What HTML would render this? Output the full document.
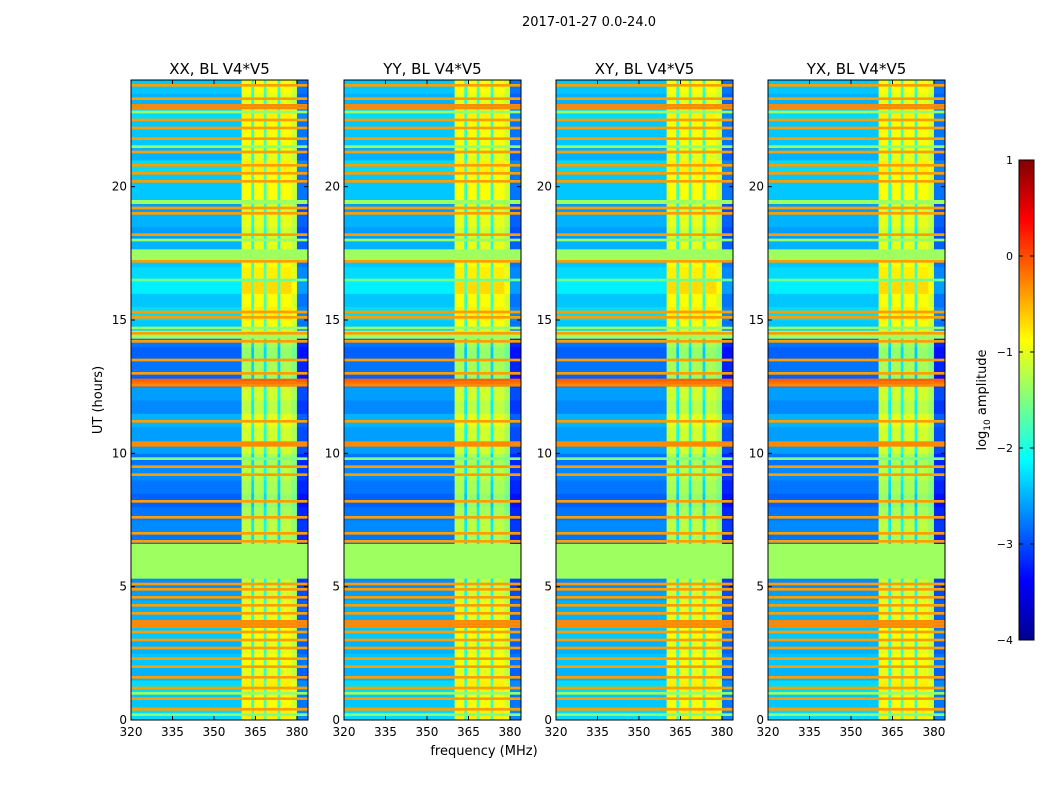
<!DOCTYPE html>
<html><head><meta charset="utf-8"><style>
body{margin:0;background:#fff;}
svg{display:block;font-family:"DejaVu Sans","Liberation Sans",sans-serif;}
</style></head><body>
<svg id="fig" width="1050" height="800" viewBox="0 0 1050 800">
<rect width="1050" height="800" fill="#fff"/>
<defs><linearGradient id="jet" x1="0" y1="1" x2="0" y2="0">
<stop offset="0" stop-color="#00008f"/><stop offset="0.125" stop-color="#0000ff"/><stop offset="0.375" stop-color="#00ffff"/><stop offset="0.625" stop-color="#ffff00"/><stop offset="0.875" stop-color="#ff0000"/><stop offset="1" stop-color="#800000"/></linearGradient></defs>
<text x="589" y="26" font-size="13" text-anchor="middle">2017-01-27 0.0-24.0</text>
<text x="484" y="755" font-size="13" text-anchor="middle">frequency (MHz)</text>
<text transform="translate(102,400) rotate(-90)" font-size="13" text-anchor="middle">UT (hours)</text>
<g id="panels"></g>
<rect x="1019" y="160" width="15" height="480" fill="url(#jet)" stroke="#000"/>
<text transform="translate(986,400) rotate(-90)" font-size="13" text-anchor="middle">log<tspan font-size="9" dy="4">10</tspan><tspan dy="-4"> amplitude</tspan></text>
<g id="cbticks"></g>
</svg>
<script>
const panelTitles = ["XX, BL V4*V5","YY, BL V4*V5","XY, BL V4*V5","YX, BL V4*V5"];
const xTicks = [320,335,350,365,380];
const yTicks = [0,5,10,15,20];
const cbTicks = [1,0,-1,-2,-3,-4];
// background log10 amplitude per 0.5 h row, from 0 h upward
const rowLevels = [
-2.3,-2.4,-2.3,-2.5,-2.4,-2.5,-2.4,-2.5,-2.5,-2.6,-2.7,-2.7,-2.8,-2.8,-2.7,-2.8,
-2.9,-2.8,-2.7,-2.8,-2.6,-2.6,-2.5,-2.7,-2.6,-2.9,-2.8,-2.9,-2.8,-2.4,-2.3,-2.4,
-2.2,-2.3,-2.4,-2.5,-2.6,-2.5,-2.6,-2.4,-2.4,-2.3,-2.5,-2.4,-2.4,-2.3,-2.5,-2.4];
// flagged (uniform) time blocks
const flagStart = [5.3,14.3,17.25,19.35];
const flagEnd   = [6.6,14.6,17.65,19.5];
const flagLevel = [-1.35,-1.35,-1.35,-1.35];
// thin horizontal RFI lines (hours) and their levels
const lineTimes = [23.8,23.3,23.05,22.95,22.5,22.2,21.8,21.3,20.8,20.5,20.2,19.2,19.0,18.2,17.2,15.3,15.1,14.5,14.2,13.5,13.0,12.75,12.65,12.55,11.2,10.4,10.3,9.5,9.2,8.2,7.6,7.0,6.7,5.1,4.9,4.6,4.3,4.0,3.7,3.6,3.5,3.3,3.0,2.7,2.3,2.0,1.6,1.2,0.8,0.4,
 22.8,21.5,18.0,16.5,14.7,9.8,1.0,0.2];
const lineLevels = [-0.4,-0.4,-0.3,-0.3,-0.4,-0.4,-0.4,-0.4,-0.4,-0.4,-0.4,-0.4,-0.4,-0.4,-0.4,-0.4,-0.4,-0.4,-0.4,-0.4,-0.4,-0.1,-0.2,-0.3,-0.4,-0.3,-0.3,-0.4,-0.4,-0.4,-0.4,-0.4,-0.4,-0.4,-0.4,-0.4,-0.4,-0.4,-0.3,-0.3,-0.3,-0.4,-0.4,-0.4,-0.4,-0.4,-0.4,-0.4,-0.4,-0.4,
 -1.4,-1.4,-1.4,-1.6,-1.4,-1.5,-1.4,-1.5];
// frequency segments (MHz) and amplitude offset applied to background rows
const segStart = [320,360,363.5,364.5,368,369,373,374,378,380];
const segEnd   = [360,363.5,364.5,368,369,373,374,378,380,384];
const segOffset= [0,1.5,0.5,1.5,0.6,1.5,0.5,1.5,1.3,-0.4];

const panelX = [131,344,556,768], PW=177, PT=80, PB=720;
const fMin=320,fMax=384,tMin=0,tMax=24,vMin=-4,vMax=1,lineH=0.1;
const NS='http://www.w3.org/2000/svg';
function jet(v){let t=(v-vMin)/(vMax-vMin);t=Math.max(0,Math.min(1,t));
 const c=x=>Math.round(255*Math.max(0,Math.min(1,1.5-Math.abs(4*t-x))));
 return `rgb(${c(3)},${c(2)},${c(1)})`;}
function mk(tag,attrs,parent){const e=document.createElementNS(NS,tag);for(const k in attrs)e.setAttribute(k,attrs[k]);parent.appendChild(e);return e;}
const g=document.getElementById('panels');
panelX.forEach((x0,p)=>{
 const xs=f=>x0+(f-fMin)/(fMax-fMin)*PW;
 const ys=t=>PB-(t-tMin)/(tMax-tMin)*(PB-PT);
 const pg=mk('g',{},g);
 
 
 const dh=(tMax-tMin)/rowLevels.length;
 rowLevels.forEach((lv,i)=>{
  const y1=ys(tMin+(i+1)*dh),y2=ys(tMin+i*dh);
  segStart.forEach((s,j)=>{
   const r=mk('rect',{x:xs(s),y:y1,width:xs(segEnd[j])-xs(s)+0.3,height:y2-y1+0.5,fill:jet(lv+segOffset[j])},pg);
   
   
  });
 });
 flagStart.forEach((s,i)=>{
  const y1=ys(flagEnd[i]),y2=ys(s);
  const r=mk('rect',{x:xs(fMin),y:y1,width:xs(fMax)-xs(fMin),height:y2-y1,fill:jet(flagLevel[i])},pg);
  
  
 });
 lineTimes.forEach((t,i)=>{
  const y1=ys(t+lineH/2),y2=ys(t-lineH/2);
  const r=mk('rect',{x:xs(fMin),y:y1,width:xs(fMax)-xs(fMin),height:y2-y1,fill:jet(lineLevels[i])},pg);
  
  
 });
 const fr=mk('rect',{x:x0,y:PT,width:PW,height:PB-PT,fill:'none',stroke:'#000','stroke-width':1},pg);
 
 
 const tt=mk('text',{x:x0+PW/2,y:74,'font-size':15,'text-anchor':'middle'},pg);tt.textContent=panelTitles[p];
 
 
 xTicks.forEach(f=>{const x=xs(f);
  mk('line',{x1:x,x2:x,y1:PB,y2:PB-4,stroke:'#000'},pg);mk('line',{x1:x,x2:x,y1:PT,y2:PT+4,stroke:'#000'},pg);
  const t=mk('text',{x:x,y:PB+16,'font-size':12,'text-anchor':'middle'},pg);t.textContent=f;
  
  });
 yTicks.forEach(v=>{const y=ys(v);
  mk('line',{x1:x0,x2:x0+4,y1:y,y2:y,stroke:'#000'},pg);mk('line',{x1:x0+PW,x2:x0+PW-4,y1:y,y2:y,stroke:'#000'},pg);
  const t=mk('text',{x:x0-4,y:y+4,'font-size':12,'text-anchor':'end'},pg);t.textContent=v;
  
  });
});
const cg=document.getElementById('cbticks');
cbTicks.forEach(v=>{const y=640-(v-vMin)/(vMax-vMin)*480;
 mk('line',{x1:1019,x2:1023,y1:y,y2:y,stroke:'#000'},cg);mk('line',{x1:1034,x2:1030,y1:y,y2:y,stroke:'#000'},cg);
 const t=mk('text',{x:1013,y:y+4,'font-size':11,'text-anchor':'end'},cg);t.textContent=v<0?'\u2212'+(-v):v;
 
 });
</script>
</body></html>
